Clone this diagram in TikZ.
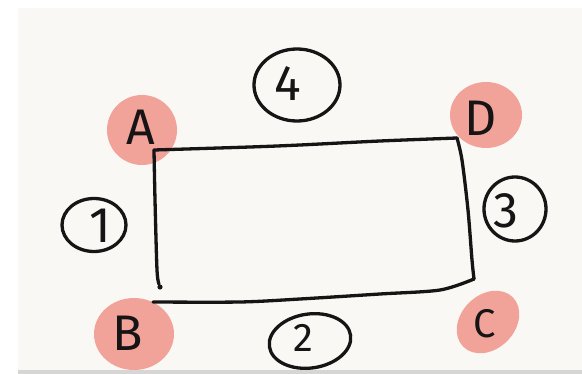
\documentclass[tikz,border=0pt]{standalone}
\usepackage{fontspec}
\setmainfont{Fira Sans}
\usetikzlibrary{shapes.geometric}
\definecolor{paper}{RGB}{250,248,244}
\definecolor{blob}{RGB}{241,163,153}
\definecolor{ink}{RGB}{22,20,20}
\definecolor{rule}{RGB}{214,214,212}
\tikzset{
  pen/.style={draw=ink, line width=3.3pt, line cap=round, line join=round},
  oval/.style={ellipse, pen, inner sep=0pt},
  spot/.style={ellipse, fill=blob, inner sep=0pt},
  glyph/.style={text=ink, inner sep=0pt, font=\fontsize{50}{50}\selectfont},
  smallglyph/.style={glyph, font=\fontsize{40}{40}\selectfont},
}
\begin{document}
\begin{tikzpicture}[x=1pt, y=-1pt]
  \useasboundingbox (0,0) rectangle (582,374);
  % paper sheet
  \fill[white] (0,0) rectangle (582,374);
  \fill[paper] (18,8) rectangle (582,370);

  % corner spots
  \node[spot, minimum width=70, minimum height=70] (sA) at (142,130) {};
  \node[spot, minimum width=72, minimum height=66] (sD) at (486,115) {};
  \node[spot, minimum width=80, minimum height=72] (sB) at (134,334) {};
  \node[spot, minimum width=70, minimum height=54, rotate=45] (sC) at (488,322) {};
  \node[glyph] (lA) at (141,127) {A};
  \node[glyph] (lD) at (481,118) {D};
  \node[glyph] (lB) at (128,333) {B};
  \node[smallglyph] (lC) at (485,324) {C};

  % bottom edge of the sheet
  \fill[rule] (18,370) rectangle (582,374);

  % the rectangle, side by side
  \draw[pen] plot[smooth] coordinates {(154,150) (250,147) (300,145) (380,141) (457,138)};
  \draw[pen] plot[smooth] coordinates {(457,138) (462,160) (468,210) (472,260) (474,279)};
  \draw[pen] plot[smooth] coordinates {(474,279) (440,290) (380,294) (300,299) (240,302) (153,302)};
  \draw[pen] plot[smooth] coordinates {(154,150) (155,200) (157,270) (159,284)};
  \fill[ink] (160,287) circle (2.6);

  % numbered side circles
  \node[oval, minimum width=86, minimum height=72] (c4) at (297,85) {};
  \node[oval, minimum width=64, minimum height=53] (c1) at (94,225) {};
  \node[oval, minimum width=62, minimum height=64] (c3) at (515,209) {};
  \node[oval, minimum width=82, minimum height=54, rotate=8] (c2) at (310,341) {};
  \node[glyph] (n4) at (288,84) {4};
  \node[glyph] (n1) at (100,226) {1};
  \node[glyph] (n3) at (506,211) {3};
  \node[smallglyph] (n2) at (303,338) {2};
\end{tikzpicture}
\end{document}
